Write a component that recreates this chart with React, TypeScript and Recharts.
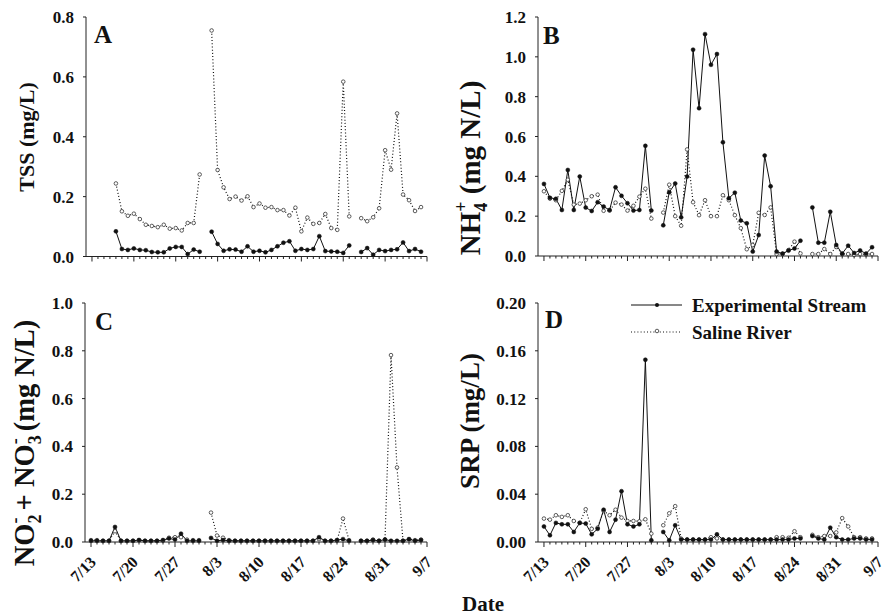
import { Line, LineChart, XAxis, YAxis } from "recharts";

// Four panels of daily water chemistry, 7/13 - 9/7. Day 0 = 7/13.
const SERIF = "Liberation Serif, Tinos, Times New Roman, DejaVu Serif, serif";

const dateLabels = ["7/13", "7/20", "7/27", "8/3", "8/10", "8/17", "8/24", "8/31", "9/7"];
const days = Array.from({ length: 56 }, (_, i) => i);
const dayTicks = Array.from({ length: 57 }, (_, i) => i);

// A: TSS (mg/L)
const tssExp = [
  null, null, null, null, 0.084, 0.025, 0.022, 0.027, 0.022, 0.021, 0.015, 0.014, 0.014, 0.027, 0.032, 0.032,
  0.008, 0.023, 0.016, null, 0.083, 0.042, 0.019, 0.024, 0.023, 0.016, 0.034, 0.016, 0.019, 0.014, 0.022, 0.034,
  0.046, 0.051, 0.019, 0.025, 0.022, 0.025, 0.068, 0.018, 0.017, 0.016, 0.012, 0.037, null, 0.015, 0.028, 0.006,
  0.022, 0.018, 0.022, 0.024, 0.047, 0.018, 0.025, 0.016,
];
const tssSal = [
  null, null, null, null, 0.244, 0.151, 0.136, 0.143, 0.125, 0.106, 0.102, 0.098, 0.106, 0.093, 0.095, 0.087,
  0.112, 0.112, 0.274, null, 0.755, 0.289, 0.231, 0.192, 0.2, 0.187, 0.201, 0.165, 0.177, 0.163, 0.165, 0.155,
  0.155, 0.137, 0.163, 0.084, 0.13, 0.109, 0.112, 0.142, 0.095, 0.089, 0.584, 0.134, null, 0.128, 0.118, 0.131,
  0.161, 0.355, 0.29, 0.478, 0.207, 0.188, 0.152, 0.165,
];

// B: NH4+ (mg N/L)
const nhExp = [
  0.362, 0.292, 0.287, 0.231, 0.432, 0.231, 0.399, 0.243, 0.226, 0.27, 0.248, 0.231, 0.345, 0.302, 0.265, 0.228,
  0.231, 0.553, 0.228, null, 0.154, 0.32, 0.364, 0.194, 0.399, 1.036, 0.742, 1.114, 0.96, 1.014, 0.571, 0.29,
  0.318, 0.178, 0.164, 0.022, 0.105, 0.504, 0.35, 0.022, 0.012, 0.027, 0.038, 0.077, null, 0.244, 0.067, 0.067,
  0.222, 0.055, 0.012, 0.052, 0.015, 0.028, 0.012, 0.044,
];
const nhSal = [
  0.325, 0.288, 0.28, 0.327, 0.383, 0.258, 0.263, 0.28, 0.3, 0.308, 0.227, 0.228, 0.268, 0.258, 0.228, 0.252,
  0.298, 0.338, 0.188, null, 0.218, 0.358, 0.2, 0.152, 0.535, 0.27, 0.205, 0.28, 0.2, 0.2, 0.305, 0.28,
  0.205, 0.14, 0.034, 0.055, 0.217, 0.206, 0.244, 0.01, 0.01, 0.03, 0.072, 0.013, null, 0.01, 0.01, 0.035,
  0.01, 0.045, 0.01, 0.01, 0.005, 0.01, 0.008, 0.01,
];

// C: NO2- + NO3- (mg N/L)
const noExp = [
  0.005, 0.005, 0.005, 0.005, 0.063, 0.005, 0.005, 0.005, 0.008, 0.005, 0.005, 0.005, 0.008, 0.015, 0.01, 0.035,
  0.005, 0.005, 0.005, null, 0.017, 0.005, 0.008, 0.005, 0.005, 0.005, 0.005, 0.005, 0.005, 0.005, 0.005, 0.005,
  0.005, 0.005, 0.005, 0.005, 0.005, 0.005, 0.02, 0.005, 0.005, 0.008, 0.012, 0.005, null, 0.005, 0.005, 0.008,
  0.005, 0.01, 0.005, 0.005, 0.005, 0.012, 0.005, 0.008,
];
const noSal = [
  0.008, 0.008, 0.005, 0.005, 0.045, 0.005, 0.005, 0.005, 0.008, 0.005, 0.005, 0.005, 0.005, 0.018, 0.02, 0.02,
  0.01, 0.008, 0.008, null, 0.123, 0.027, 0.018, 0.008, 0.005, 0.005, 0.005, 0.005, 0.005, 0.005, 0.005, 0.005,
  0.005, 0.005, 0.005, 0.005, 0.005, 0.005, 0.012, 0.005, 0.005, 0.005, 0.098, 0.008, null, 0.005, 0.005, 0.01,
  0.005, 0.01, 0.782, 0.312, 0.005, 0.012, 0.008, 0.01,
];

// D: SRP (mg/L)
const srpExp = [
  0.013, 0.0056, 0.016, 0.0148, 0.0148, 0.0084, 0.016, 0.0154, 0.0064, 0.011, 0.027, 0.0084, 0.0187, 0.0425, 0.0148, 0.013,
  0.0148, 0.1525, 0.0014, null, 0.0084, 0.0014, 0.014, 0.002, 0.002, 0.002, 0.002, 0.002, 0.002, 0.0064, 0.002, 0.002,
  0.002, 0.002, 0.002, 0.002, 0.002, 0.002, 0.002, 0.002, 0.002, 0.002, 0.003, 0.003, null, 0.005, 0.003, 0.002,
  0.012, 0.004, 0.002, 0.002, 0.003, 0.003, 0.002, 0.002,
];
const srpSal = [
  0.0196, 0.0187, 0.0224, 0.021, 0.0224, 0.0176, 0.016, 0.0274, 0.011, 0.012, 0.026, 0.0224, 0.027, 0.0204, 0.0176, 0.0176,
  0.0173, 0.019, 0.007, null, 0.014, 0.024, 0.03, 0.0028, 0.002, 0.002, 0.002, 0.002, 0.004, 0.003, 0.002, 0.002,
  0.002, 0.002, 0.002, 0.002, 0.002, 0.002, 0.002, 0.004, 0.004, 0.0035, 0.009, 0.004, null, 0.006, 0.004, 0.005,
  0.005, 0.008, 0.02, 0.013, 0.004, 0.004, 0.003, 0.003,
];

const tssTicks = [0, 0.2, 0.4, 0.6, 0.8];
const nhTicks = [0, 0.2, 0.4, 0.6, 0.8, 1.0, 1.2];
const noTicks = [0, 0.2, 0.4, 0.6, 0.8, 1.0];
const srpTicks = [0, 0.04, 0.08, 0.12, 0.16, 0.2];

type Row = { day: number; exp: number | null; sal: number | null };

const toRows = (exp: (number | null)[], sal: (number | null)[]): Row[] =>
  days.map((d) => ({ day: d, exp: exp[d], sal: sal[d] }));

// daily minor ticks, weekly major ticks with rotated date labels
function DayTick(props: any) {
  const { x, y, payload, showLabels } = props;
  const d = Number(payload?.value ?? 0);
  const major = d % 7 === 0;
  return (
    <g>
      <line x1={x} x2={x} y1={y} y2={y + (major ? 5 : 2.5)} stroke="#222" strokeWidth={1} />
      {showLabels && major ? (
        <text
          transform={`translate(${x + 6},${y + 21}) rotate(-45)`}
          textAnchor="end"
          fontSize={16}
          fontWeight="bold"
          style={{ fontFamily: SERIF }}
          fill="#111"
        >
          {dateLabels[d / 7]}
        </text>
      ) : null}
    </g>
  );
}

interface PanelProps {
  rows: Row[];
  box: [number, number, number, number]; // plot left, top, right, bottom (page px)
  yTicks: number[];
  digits: number;
  showDates: boolean;
}

function Panel({ rows, box, yTicks, digits, showDates }: PanelProps) {
  const [x0, y0, x1, y1] = box;
  const padL = 70;
  const padT = 10;
  const padR = 14;
  const padB = 60;
  return (
    <div style={{ position: "absolute", left: x0 - padL, top: y0 - padT, fontFamily: SERIF }}>
      <LineChart
        width={x1 - x0 + padL + padR}
        height={y1 - y0 + padT + padB}
        data={rows}
        margin={{ top: padT, right: padR, left: padL - 60, bottom: 0 }}
        style={{ fontFamily: SERIF }}
      >
        <XAxis
          type="number"
          dataKey="day"
          domain={[-1, 56]}
          ticks={dayTicks}
          interval={0}
          height={padB}
          stroke="#222"
          tickLine={false}
          tickSize={0}
          tickMargin={0}
          tick={(p: any) => <DayTick {...p} showLabels={showDates} />}
        />
        <YAxis
          type="number"
          domain={[yTicks[0], yTicks[yTicks.length - 1]]}
          ticks={yTicks}
          interval={0}
          width={60}
          stroke="#222"
          tickSize={3}
          tickMargin={9}
          tickFormatter={(v: number) => v.toFixed(digits)}
          tick={{ fill: "#111", fontSize: 17, fontWeight: "bold", style: { fontFamily: SERIF } }}
        />
        <Line
          type="linear"
          dataKey="sal"
          stroke="#111"
          strokeWidth={1.2}
          strokeDasharray="1 2.2"
          dot={{ r: 1.8, fill: "#fff", stroke: "#333", strokeWidth: 0.8, strokeDasharray: "none" }}
          activeDot={false}
          isAnimationActive={false}
        />
        <Line
          type="linear"
          dataKey="exp"
          stroke="#111"
          strokeWidth={1}
          dot={{ r: 2, fill: "#111", stroke: "#111", strokeWidth: 0.5 }}
          activeDot={false}
          isAnimationActive={false}
        />
      </LineChart>
    </div>
  );
}

const labelStyle = { fontWeight: "bold" as const, fill: "#111", style: { fontFamily: SERIF } };

export default function App() {
  return (
    <div style={{ position: "absolute", left: 0, top: 0, width: 892, height: 615, background: "#fff", fontFamily: SERIF }}>
      <Panel rows={toRows(tssExp, tssSal)} box={[86, 17, 427, 256.5]} yTicks={tssTicks} digits={1} showDates={false} />
      <Panel rows={toRows(nhExp, nhSal)} box={[538, 17, 878, 256]} yTicks={nhTicks} digits={1} showDates={false} />
      <Panel rows={toRows(noExp, noSal)} box={[85, 303, 427, 542]} yTicks={noTicks} digits={1} showDates={true} />
      <Panel rows={toRows(srpExp, srpSal)} box={[538, 303, 878, 542]} yTicks={srpTicks} digits={2} showDates={true} />

      <svg width={892} height={615} style={{ position: "absolute", left: 0, top: 0, pointerEvents: "none" }}>
        {/* panel letters */}
        <text x={94} y={43} fontSize={25} {...labelStyle}>A</text>
        <text x={543} y={44} fontSize={25} {...labelStyle}>B</text>
        <text x={95} y={330} fontSize={25} {...labelStyle}>C</text>
        <text x={545} y={328} fontSize={25} {...labelStyle}>D</text>

        {/* axis titles */}
        <text transform="translate(34,137) rotate(-90)" textAnchor="middle" fontSize={22} {...labelStyle}>
          TSS (mg/L)
        </text>
        <text transform="translate(480,168) rotate(-90)" textAnchor="middle" fontSize={29} {...labelStyle}>
          NH<tspan dy={7} fontSize={18}>4</tspan>
          <tspan dx={-9} dy={-20} fontSize={18}>+</tspan>
          <tspan dy={13}> (mg N/L)</tspan>
        </text>
        <text transform="translate(34,443) rotate(-90)" textAnchor="middle" fontSize={28.5} {...labelStyle}>
          NO<tspan dy={7} fontSize={18}>2</tspan>
          <tspan dx={-9} dy={-20} fontSize={18}>-</tspan>
          <tspan dy={13}> + NO</tspan>
          <tspan dy={7} fontSize={18}>3</tspan>
          <tspan dx={-9} dy={-20} fontSize={18}>-</tspan>
          <tspan dy={13}> (mg N/L)</tspan>
        </text>
        <text transform="translate(479,421) rotate(-90)" textAnchor="middle" fontSize={27} {...labelStyle}>
          SRP (mg/L)
        </text>
        <text x={483} y={611} textAnchor="middle" fontSize={21} {...labelStyle}>
          Date
        </text>

        {/* legend */}
        <line x1={631} x2={682} y1={305} y2={305} stroke="#111" strokeWidth={1} />
        <circle cx={657} cy={305} r={2} fill="#111" />
        <text x={692} y={312} fontSize={19} {...labelStyle}>Experimental Stream</text>
        <line x1={631} x2={682} y1={332} y2={332} stroke="#111" strokeWidth={1.2} strokeDasharray="1 2.2" />
        <circle cx={657} cy={331} r={1.8} fill="#fff" stroke="#333" strokeWidth={0.8} />
        <text x={692} y={339} fontSize={19} {...labelStyle}>Saline River</text>
      </svg>
    </div>
  );
}
